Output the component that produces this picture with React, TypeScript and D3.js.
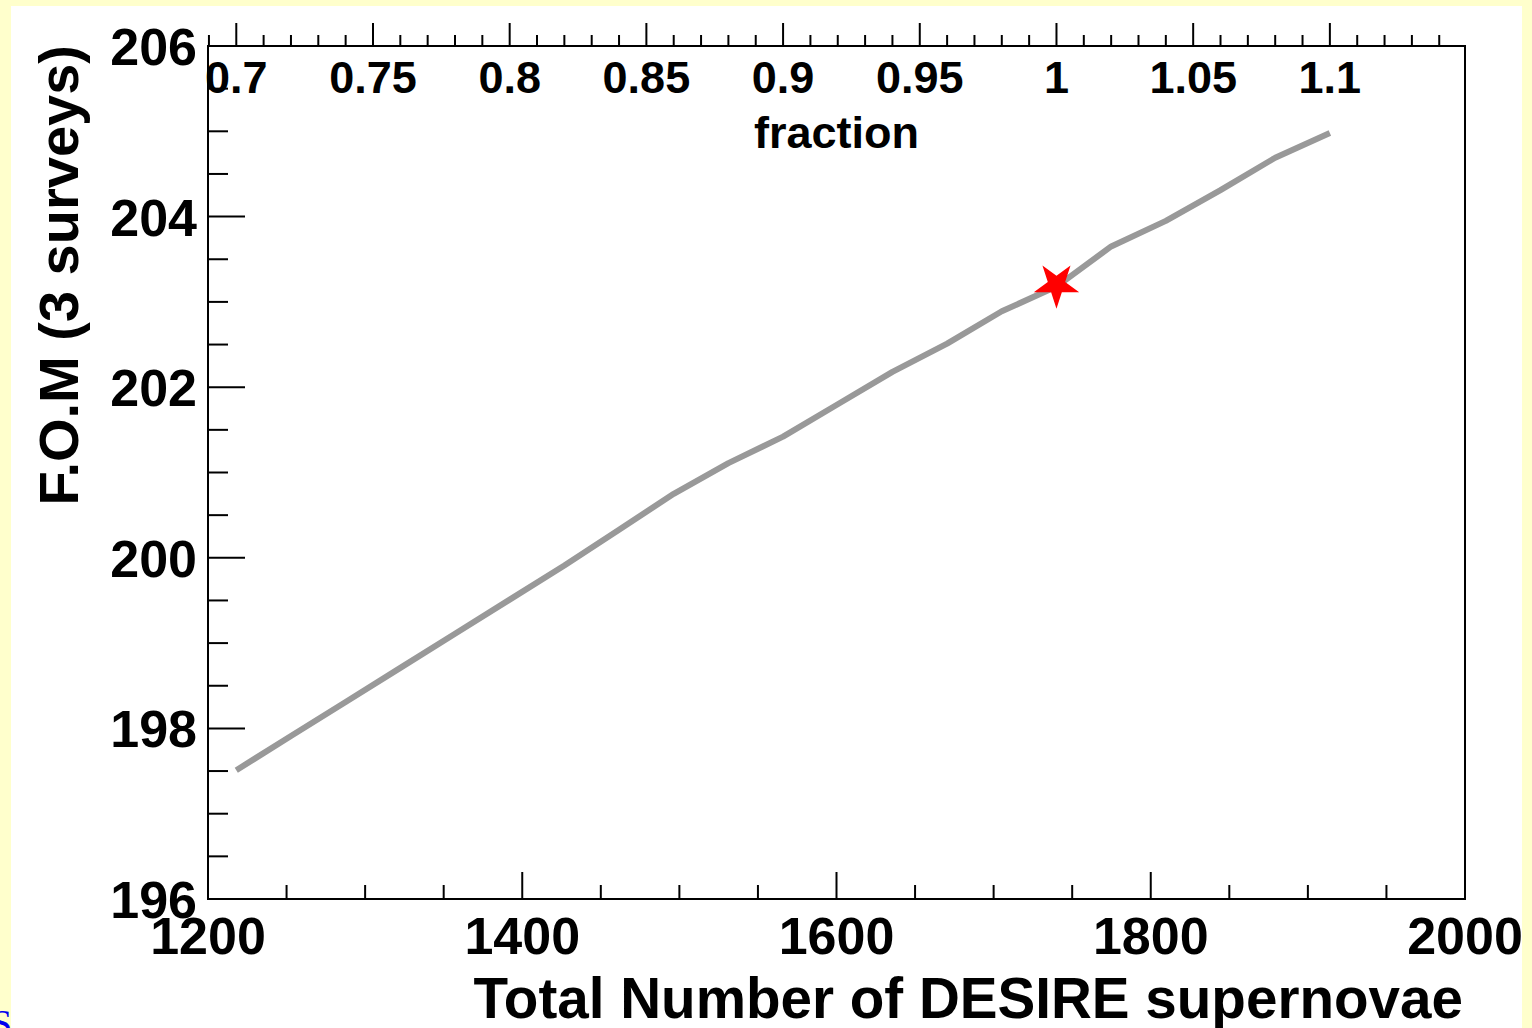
import React, { useEffect, useRef } from 'react';
import * as d3 from 'd3';

// fraction of the nominal DESIRE sample (1740 SNe) and the F.O.M
const FRACTIONS = [0.70, 0.72, 0.74, 0.76, 0.78, 0.80, 0.82, 0.84, 0.86, 0.88, 0.90,
  0.92, 0.94, 0.96, 0.98, 1.00, 1.02, 1.04, 1.06, 1.08, 1.10];
const FOM = [197.51, 197.91, 198.31, 198.71, 199.11, 199.51, 199.91, 200.33, 200.75, 201.11, 201.42,
  201.80, 202.18, 202.51, 202.89, 203.18, 203.65, 203.95, 204.31, 204.69, 204.98];
const NOMINAL = 1740;
const STAR = { fraction: 1.0, fom: 203.2 };

const X_MAJOR = [1200, 1400, 1600, 1800, 2000];
const Y_MAJOR = [196, 198, 200, 202, 204, 206];
const TOP_MAJOR = [0.7, 0.75, 0.8, 0.85, 0.9, 0.95, 1, 1.05, 1.1];

const W = 1532;
const H = 1028;
const FONT = '"Liberation Sans", Arial, Helvetica, sans-serif';

const App = () => {
  const svgRef = useRef<SVGSVGElement | null>(null);

  useEffect(() => {
    if (!svgRef.current) return;
    const svg = d3.select(svgRef.current);
    svg.selectAll('*').remove();

    const left = 208, right = 1465, top = 46, bottom = 899;

    const x = d3.scaleLinear().domain([1200, 2000]).range([left, right]);
    const xTop = d3.scaleLinear().domain([1200 / NOMINAL, 2000 / NOMINAL]).range([left, right]);
    const y = d3.scaleLinear().domain([196, 206]).range([bottom, top]);

    // 背景
    svg.append('rect').attr('width', W).attr('height', H).attr('fill', '#ffffcc');
    svg.append('rect').attr('x', 11).attr('y', 6).attr('width', 1511).attr('height', H).attr('fill', '#fff');

    // stray link text at bottom-left
    svg.append('text')
      .attr('x', -9).attr('y', 1036)
      .attr('font-family', '"Liberation Serif", serif').attr('font-size', 38)
      .attr('fill', '#0000ee')
      .text('S');

    const tickStroke = (sel: any) => sel.attr('stroke', '#000').attr('stroke-width', 2);

    // bottom axis ticks (inside, upward)
    const xMinor = d3.range(1200, 2001, 50);
    xMinor.forEach(v => {
      const major = X_MAJOR.includes(v);
      svg.append('line')
        .attr('x1', x(v)).attr('x2', x(v))
        .attr('y1', bottom).attr('y2', bottom - (major ? 27 : 14))
        .call(tickStroke);
    });
    X_MAJOR.forEach(v => {
      svg.append('text')
        .attr('x', x(v)).attr('y', 954)
        .attr('text-anchor', 'middle')
        .attr('font-family', FONT).attr('font-weight', 'bold').attr('font-size', 52)
        .text(v);
    });

    // left axis ticks (inside, rightward)
    const yMinor = d3.range(196, 206.01, 0.5);
    yMinor.forEach(v => {
      const major = Math.abs(v - Math.round(v)) < 1e-6 && Math.round(v) % 2 === 0;
      svg.append('line')
        .attr('x1', left).attr('x2', left + (major ? 37 : 20))
        .attr('y1', y(v)).attr('y2', y(v))
        .call(tickStroke);
    });
    Y_MAJOR.forEach(v => {
      svg.append('text')
        .attr('x', 197).attr('y', y(v) + 19)
        .attr('text-anchor', 'end')
        .attr('font-family', FONT).attr('font-weight', 'bold').attr('font-size', 52)
        .text(v);
    });

    // top axis: fraction (ticks outside, labels inside)
    const topMinor = d3.range(69, 115).map(d => d / 100);
    topMinor.forEach(v => {
      const major = TOP_MAJOR.some(m => Math.abs(m - v) < 1e-6);
      svg.append('line')
        .attr('x1', xTop(v)).attr('x2', xTop(v))
        .attr('y1', top).attr('y2', top - (major ? 23 : 11))
        .call(tickStroke);
    });
    TOP_MAJOR.forEach(v => {
      svg.append('text')
        .attr('x', xTop(v)).attr('y', 93)
        .attr('text-anchor', 'middle')
        .attr('font-family', FONT).attr('font-weight', 'bold').attr('font-size', 45)
        .text(String(v));
    });

    // frame
    svg.append('rect')
      .attr('x', left).attr('y', top)
      .attr('width', right - left).attr('height', bottom - top)
      .attr('fill', 'none').attr('stroke', '#000').attr('stroke-width', 2);

    // curve
    const line = d3.line<number>()
      .x((_, i) => x(FRACTIONS[i] * NOMINAL))
      .y(d => y(d));
    svg.append('path')
      .datum(FOM)
      .attr('d', line)
      .attr('fill', 'none')
      .attr('stroke', '#999999')
      .attr('stroke-width', 6)
      .attr('stroke-linejoin', 'round');

    // 标记点 (inverted star)
    svg.append('path')
      .attr('d', d3.symbol(d3.symbolStar, 640)())
      .attr('transform', `translate(${x(STAR.fraction * NOMINAL)},${y(STAR.fom)}) rotate(180)`)
      .attr('fill', '#ff0000');

    // axis titles
    svg.append('text')
      .attr('x', (left + right) / 2).attr('y', 148)
      .attr('text-anchor', 'middle')
      .attr('font-family', FONT).attr('font-weight', 'bold').attr('font-size', 45)
      .text('fraction');

    svg.append('text')
      .attr('x', 1463).attr('y', 1018)
      .attr('text-anchor', 'end')
      .attr('font-family', FONT).attr('font-weight', 'bold').attr('font-size', 56.6)
      .text('Total Number of DESIRE supernovae');

    svg.append('text')
      .attr('transform', 'translate(78,45) rotate(-90)')
      .attr('text-anchor', 'end')
      .attr('font-family', FONT).attr('font-weight', 'bold').attr('font-size', 56)
      .text('F.O.M (3 surveys)');
  }, []);

  return (
    <svg ref={svgRef} width={W} height={H}
      style={{ position: 'absolute', left: 0, top: 0, display: 'block' }} />
  );
};

export default App;
